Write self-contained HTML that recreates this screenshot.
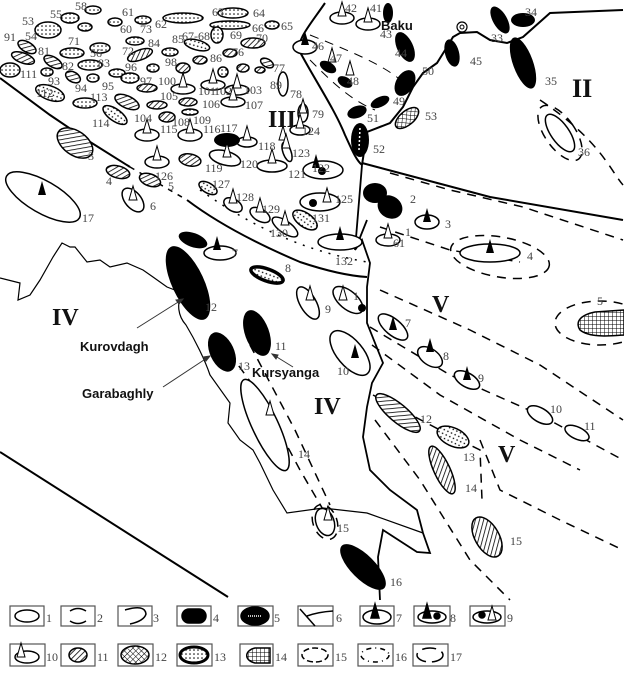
<!DOCTYPE html>
<html><head><meta charset="utf-8"><style>
html,body{margin:0;padding:0;background:#fff;}
svg{display:block;}
.n{font-family:"Liberation Serif",serif;font-size:12px;fill:#444;}
.r{font-family:"Liberation Serif",serif;font-weight:bold;fill:#111;}
.l{font-family:"Liberation Sans",sans-serif;font-weight:bold;font-size:13px;fill:#111;}
</style></head><body>
<svg width="624" height="673" viewBox="0 0 624 673" xmlns="http://www.w3.org/2000/svg">
<defs>
<pattern id="h" width="4" height="4" patternUnits="userSpaceOnUse" patternTransform="rotate(45)"><rect width="4" height="4" fill="#fff"/><line x1="0" y1="0" x2="0" y2="4" stroke="#000" stroke-width="1.6"/></pattern>
<pattern id="d" width="4" height="4" patternUnits="userSpaceOnUse"><rect width="4" height="4" fill="#fff"/><circle cx="2" cy="2" r="0.8" fill="#000"/></pattern>
<pattern id="x" width="4" height="4" patternUnits="userSpaceOnUse" patternTransform="rotate(45)"><rect width="4" height="4" fill="#fff"/><path d="M0 0V4M0 0H4" stroke="#000" stroke-width="1"/></pattern>
<pattern id="g" width="4" height="4" patternUnits="userSpaceOnUse"><rect width="4" height="4" fill="#fff"/><path d="M0 0V4M0 0H4" stroke="#000" stroke-width="1"/></pattern>
<g id="wc"><path d="M-4,0 L0,-14 L4,0Z" fill="#fff" stroke="#000" stroke-width="1"/></g>
<g id="bc"><path d="M-4,0 L0,-14 L4,0Z" fill="#000"/></g>
</defs>
<g fill="none" stroke="#000" stroke-width="2">
<path d="M0,78 L50,115 L87,140 L130,167"/>
<path d="M130,167 L187,200" stroke-dasharray="5,6" stroke-width="1.5"/>
<path d="M187,200 C220,225 260,245 300,262 C330,272 350,276 367,277"/>
<path d="M200,190 C250,225 300,250 367,262" stroke-dasharray="2,7" stroke-width="1.5"/>
<path d="M0,452 L228,597"/>
<path d="M325,3 C310,25 296,40 300,52 C315,80 335,110 345,135 C352,150 356,160 362,165"/>
<path d="M362,165 L367,132 L390,123 L403,107 L413,87 L423,73 L437,63 L447,47 L453,37 L460,33 L477,32 L490,40 L507,43 L523,37 L550,13 L623,10"/>
<path d="M362,163 L490,197 L623,220"/>
<path d="M362,165 L355,250 L367,220 M355,250 L362,240 L370,263 L367,287 L367,323 L383,363 L372,383 L367,407 L363,437 L370,470 L390,490 L417,510 L423,533 L430,553 L417,552 L383,530 L378,557 L380,600" stroke-width="1.8"/>
<path d="M0,278 L20,283 L18,300 L30,295 L40,280 L53,257 L62,243 L70,247 L75,247 L87,262 L100,260 L110,267 L127,263 L143,270 L153,277 L167,287 L180,292 C178,305 177,315 186,325 C195,340 205,360 210,375 L230,403 L228,423 L240,440 L253,450 L260,463 L273,490 L287,513 L323,508 L367,513 L423,533" stroke-width="1.2"/>
<g stroke-dasharray="9,7" stroke-width="1.5">
<path d="M380,227 L450,250 L520,262"/>
<path d="M390,173 L450,190 L523,207 L623,240"/>
<path d="M380,290 L470,330 L540,365 L623,420"/>
<path d="M370,327 L450,375 L540,415 L623,460"/>
<path d="M372,345 L440,395 L520,440 L580,470"/>
<path d="M373,395 L440,430 L480,450 L482,500"/>
<path d="M375,420 L420,480 L470,560 L510,600"/>
<path d="M480,440 L500,490 L560,520 L623,550"/>
<path d="M220,340 L260,395 L300,470 L335,530"/>
<path d="M250,345 L295,430 L330,505"/>
<ellipse cx="500" cy="257" rx="50" ry="20" transform="rotate(10 500 257)"/>
<ellipse cx="600" cy="323" rx="45" ry="22"/>
<ellipse cx="560" cy="133" rx="15" ry="32" transform="rotate(-35 560 133)"/>
<path d="M540,100 C600,140 610,170 623,185"/>
<ellipse cx="325" cy="522" rx="12" ry="18" transform="rotate(-20 325 522)"/>
<path d="M310,35 C360,55 395,70 410,90" stroke-width="1"/>
<path d="M310,60 C330,80 350,100 375,110" stroke-width="1"/>
</g>
</g>
<g fill="#fff" stroke="#000" stroke-width="1.5">
<ellipse cx="43" cy="197" rx="42" ry="16" transform="rotate(30 43 197)"/>
<ellipse cx="133" cy="200" rx="8" ry="14" transform="rotate(-40 133 200)"/>
<ellipse cx="147" cy="135" rx="12" ry="6"/><ellipse cx="157" cy="162" rx="12" ry="6"/>
<ellipse cx="190" cy="135" rx="12" ry="6"/><ellipse cx="183" cy="89" rx="12" ry="5"/>
<ellipse cx="213" cy="85" rx="12" ry="5"/><ellipse cx="237" cy="90" rx="12" ry="5"/>
<ellipse cx="233" cy="102" rx="12" ry="5"/><ellipse cx="225" cy="158" rx="16" ry="7" transform="rotate(15 225 158)"/>
<ellipse cx="247" cy="142" rx="10" ry="5"/><ellipse cx="272" cy="166" rx="15" ry="6"/>
<ellipse cx="287" cy="152" rx="4" ry="10" transform="rotate(-20 287 152)"/>
<ellipse cx="300" cy="130" rx="10" ry="5"/><ellipse cx="303" cy="113" rx="5" ry="9"/>
<ellipse cx="283" cy="84" rx="5" ry="12"/>
<ellipse cx="323" cy="170" rx="20" ry="9"/><ellipse cx="320" cy="202" rx="20" ry="9"/>
<ellipse cx="340" cy="242" rx="22" ry="8"/><ellipse cx="233" cy="205" rx="10" ry="6" transform="rotate(30 233 205)"/>
<ellipse cx="260" cy="215" rx="11" ry="6" transform="rotate(30 260 215)"/>
<ellipse cx="285" cy="227" rx="15" ry="6" transform="rotate(35 285 227)"/>
<ellipse cx="220" cy="253" rx="16" ry="7"/>
<ellipse cx="305" cy="47" rx="12" ry="7"/><ellipse cx="342" cy="18" rx="12" ry="6"/><ellipse cx="368" cy="24" rx="12" ry="6"/>
<ellipse cx="560" cy="133" rx="9" ry="22" transform="rotate(-35 560 133)"/>
<ellipse cx="427" cy="222" rx="12" ry="7"/><ellipse cx="388" cy="240" rx="12" ry="6"/>
<ellipse cx="490" cy="253" rx="30" ry="9"/>
<ellipse cx="393" cy="327" rx="18" ry="8" transform="rotate(40 393 327)"/>
<ellipse cx="430" cy="357" rx="14" ry="8" transform="rotate(35 430 357)"/>
<ellipse cx="467" cy="380" rx="14" ry="7" transform="rotate(30 467 380)"/>
<ellipse cx="540" cy="415" rx="14" ry="7" transform="rotate(30 540 415)"/>
<ellipse cx="577" cy="433" rx="13" ry="6" transform="rotate(25 577 433)"/>
<ellipse cx="308" cy="303" rx="8" ry="18" transform="rotate(-30 308 303)"/>
<ellipse cx="348" cy="300" rx="18" ry="9" transform="rotate(40 348 300)"/>
<ellipse cx="350" cy="353" rx="13" ry="27" transform="rotate(-40 350 353)"/>
<ellipse cx="265" cy="425" rx="13" ry="50" transform="rotate(-25 265 425)"/>
<ellipse cx="325" cy="522" rx="9" ry="14" transform="rotate(-20 325 522)"/>
</g>
<g stroke="#000" stroke-width="1.5">
<ellipse cx="48" cy="30" rx="13" ry="8" fill="url(#d)"/><ellipse cx="70" cy="18" rx="9" ry="5" fill="url(#d)"/>
<ellipse cx="93" cy="10" rx="8" ry="4" fill="url(#d)"/><ellipse cx="85" cy="27" rx="7" ry="4" fill="url(#d)"/>
<ellipse cx="115" cy="22" rx="7" ry="4" fill="url(#d)"/><ellipse cx="143" cy="20" rx="8" ry="4" fill="url(#d)"/>
<ellipse cx="183" cy="18" rx="20" ry="5" fill="url(#d)"/><ellipse cx="233" cy="13" rx="15" ry="5" fill="url(#d)"/>
<ellipse cx="230" cy="25" rx="20" ry="4" fill="url(#d)"/><ellipse cx="272" cy="25" rx="7" ry="4" fill="url(#d)"/>
<ellipse cx="27" cy="47" rx="10" ry="5" transform="rotate(30 27 47)" fill="url(#h)"/>
<ellipse cx="23" cy="58" rx="12" ry="5" transform="rotate(20 23 58)" fill="url(#h)"/>
<ellipse cx="72" cy="53" rx="12" ry="5" fill="url(#d)"/><ellipse cx="100" cy="48" rx="10" ry="5" fill="url(#d)"/>
<ellipse cx="135" cy="41" rx="9" ry="4" fill="url(#d)"/><ellipse cx="140" cy="55" rx="13" ry="5" transform="rotate(-20 140 55)" fill="url(#h)"/>
<ellipse cx="170" cy="52" rx="8" ry="4" fill="url(#d)"/><ellipse cx="197" cy="45" rx="13" ry="5" transform="rotate(15 197 45)" fill="url(#d)"/>
<ellipse cx="217" cy="35" rx="6" ry="8" fill="url(#d)"/><ellipse cx="253" cy="43" rx="12" ry="5" fill="url(#h)"/>
<ellipse cx="230" cy="53" rx="7" ry="4" fill="url(#h)"/><ellipse cx="243" cy="68" rx="6" ry="4" fill="url(#h)"/>
<ellipse cx="53" cy="62" rx="10" ry="5" transform="rotate(30 53 62)" fill="url(#h)"/>
<ellipse cx="90" cy="65" rx="12" ry="5" fill="url(#d)"/><ellipse cx="117" cy="73" rx="8" ry="4" fill="url(#d)"/>
<ellipse cx="130" cy="78" rx="9" ry="5" fill="url(#d)"/><ellipse cx="47" cy="72" rx="6" ry="4" fill="url(#d)"/>
<ellipse cx="73" cy="77" rx="8" ry="5" transform="rotate(30 73 77)" fill="url(#h)"/>
<ellipse cx="93" cy="78" rx="6" ry="4" fill="url(#d)"/>
<ellipse cx="50" cy="93" rx="15" ry="7" transform="rotate(20 50 93)" fill="url(#d)"/>
<ellipse cx="85" cy="103" rx="12" ry="5" fill="url(#d)"/><ellipse cx="153" cy="68" rx="6" ry="4" fill="url(#d)"/>
<ellipse cx="183" cy="68" rx="7" ry="5" fill="url(#h)"/><ellipse cx="147" cy="88" rx="10" ry="4" fill="url(#h)"/>
<ellipse cx="157" cy="105" rx="10" ry="4" fill="url(#h)"/><ellipse cx="127" cy="102" rx="13" ry="6" transform="rotate(25 127 102)" fill="url(#h)"/>
<ellipse cx="115" cy="115" rx="14" ry="6" transform="rotate(35 115 115)" fill="url(#d)"/>
<ellipse cx="167" cy="117" rx="8" ry="5" fill="url(#h)"/><ellipse cx="188" cy="102" rx="9" ry="4" fill="url(#h)"/>
<ellipse cx="190" cy="112" rx="8" ry="3" fill="url(#d)"/><ellipse cx="200" cy="60" rx="7" ry="4" fill="url(#h)"/>
<ellipse cx="223" cy="72" rx="5" ry="5" fill="url(#d)"/><ellipse cx="267" cy="63" rx="7" ry="4" transform="rotate(30 267 63)" fill="url(#h)"/>
<ellipse cx="260" cy="70" rx="5" ry="3" fill="url(#h)"/><ellipse cx="10" cy="70" rx="10" ry="7" fill="url(#d)"/>
<ellipse cx="75" cy="143" rx="20" ry="12" transform="rotate(35 75 143)" fill="url(#h)"/>
<ellipse cx="118" cy="172" rx="12" ry="6" transform="rotate(15 118 172)" fill="url(#h)"/>
<ellipse cx="150" cy="180" rx="11" ry="6" transform="rotate(20 150 180)" fill="url(#h)"/>
<ellipse cx="190" cy="160" rx="11" ry="6" transform="rotate(10 190 160)" fill="url(#h)"/>
<ellipse cx="208" cy="188" rx="10" ry="5" transform="rotate(30 208 188)" fill="url(#d)"/>
<ellipse cx="305" cy="220" rx="14" ry="7" transform="rotate(35 305 220)" fill="url(#d)"/>
<ellipse cx="407" cy="118" rx="7" ry="14" transform="rotate(50 407 118)" fill="url(#x)"/>
<ellipse cx="267" cy="275" rx="17" ry="6" transform="rotate(20 267 275)" fill="url(#d)" stroke-width="3.5"/>
<ellipse cx="398" cy="413" rx="28" ry="9" transform="rotate(40 398 413)" fill="url(#h)"/>
<ellipse cx="453" cy="437" rx="17" ry="9" transform="rotate(25 453 437)" fill="url(#d)"/>
<ellipse cx="442" cy="470" rx="8" ry="26" transform="rotate(-25 442 470)" fill="url(#h)"/>
<ellipse cx="487" cy="537" rx="12" ry="22" transform="rotate(-30 487 537)" fill="url(#h)"/>
<path d="M624,310 L595,312 C580,315 575,322 580,330 C590,338 610,336 624,335Z" fill="url(#g)"/>
</g>
<g fill="#000">
<ellipse cx="227" cy="140" rx="13" ry="7"/>
<ellipse cx="388" cy="13" rx="5" ry="10"/>
<ellipse cx="405" cy="47" rx="8" ry="16" transform="rotate(-25 405 47)"/>
<ellipse cx="452" cy="53" rx="7" ry="14" transform="rotate(-15 452 53)"/>
<ellipse cx="500" cy="20" rx="7" ry="15" transform="rotate(-30 500 20)"/>
<ellipse cx="523" cy="20" rx="12" ry="7"/>
<ellipse cx="523" cy="63" rx="10" ry="27" transform="rotate(-20 523 63)"/>
<ellipse cx="405" cy="83" rx="9" ry="14" transform="rotate(30 405 83)"/>
<ellipse cx="380" cy="102" rx="10" ry="5" transform="rotate(-25 380 102)"/>
<ellipse cx="357" cy="112" rx="10" ry="6" transform="rotate(-20 357 112)"/>
<ellipse cx="360" cy="140" rx="9" ry="17"/>
<ellipse cx="328" cy="67" rx="9" ry="5" transform="rotate(30 328 67)"/>
<ellipse cx="345" cy="82" rx="8" ry="5" transform="rotate(30 345 82)"/>
<ellipse cx="375" cy="193" rx="12" ry="10"/><ellipse cx="390" cy="207" rx="13" ry="11" transform="rotate(35 390 207)"/>
<ellipse cx="188" cy="283" rx="16" ry="40" transform="rotate(-25 188 283)"/>
<ellipse cx="193" cy="240" rx="15" ry="7" transform="rotate(20 193 240)"/>
<ellipse cx="257" cy="333" rx="12" ry="24" transform="rotate(-20 257 333)"/>
<ellipse cx="222" cy="352" rx="12" ry="21" transform="rotate(-25 222 352)"/>
<ellipse cx="363" cy="567" rx="12" ry="30" transform="rotate(-45 363 567)"/>
<circle cx="322" cy="171" r="4"/><circle cx="313" cy="203" r="4"/><circle cx="362" cy="308" r="4"/>
</g>
<path d="M360,128 L359,150" stroke="#fff" stroke-width="1.5" stroke-dasharray="2,2"/>
<g>
<use href="#wc" x="147" y="133"/><use href="#wc" x="157" y="160"/><use href="#wc" x="190" y="133"/>
<use href="#wc" x="183" y="87"/><use href="#wc" x="213" y="83"/><use href="#wc" x="237" y="88"/>
<use href="#wc" x="233" y="100"/><use href="#wc" x="227" y="157"/><use href="#wc" x="247" y="140"/>
<use href="#wc" x="272" y="163"/><use href="#wc" x="283" y="140"/><use href="#wc" x="133" y="200"/>
<use href="#wc" x="233" y="203"/><use href="#wc" x="260" y="212"/><use href="#wc" x="285" y="225"/>
<use href="#wc" x="303" y="113"/><use href="#wc" x="300" y="128"/><use href="#wc" x="286" y="148"/>
<use href="#wc" x="327" y="202"/><use href="#wc" x="388" y="238"/><use href="#wc" x="342" y="16"/>
<use href="#wc" x="368" y="22"/><use href="#wc" x="332" y="62"/><use href="#wc" x="350" y="75"/>
<use href="#wc" x="343" y="300"/><use href="#wc" x="310" y="300"/><use href="#wc" x="270" y="415"/>
<use href="#wc" x="328" y="520"/>
<use href="#bc" x="42" y="195"/><use href="#bc" x="305" y="45"/><use href="#bc" x="316" y="168"/>
<use href="#bc" x="340" y="240"/><use href="#bc" x="427" y="222"/><use href="#bc" x="490" y="253"/>
<use href="#bc" x="393" y="330"/><use href="#bc" x="430" y="352"/><use href="#bc" x="467" y="380"/>
<use href="#bc" x="355" y="358"/><use href="#bc" x="217" y="250"/>
</g>
<g class="n">
<text x="22" y="25">53</text><text x="50" y="18">55</text><text x="75" y="10">58</text><text x="122" y="16">61</text>
<text x="155" y="28">62</text><text x="212" y="16">63</text><text x="253" y="17">64</text><text x="252" y="32">66</text>
<text x="281" y="30">65</text><text x="4" y="41">91</text><text x="25" y="40">54</text><text x="38" y="55">81</text>
<text x="68" y="45">71</text><text x="140" y="33">73</text><text x="148" y="47">84</text><text x="172" y="43">85</text>
<text x="182" y="40">67-68</text><text x="230" y="39">69</text><text x="256" y="42">70</text><text x="232" y="56">76</text>
<text x="90" y="57">56</text><text x="120" y="33">60</text><text x="122" y="55">72</text><text x="62" y="70">82</text>
<text x="98" y="67">83</text><text x="125" y="71">96</text><text x="165" y="66">98</text><text x="210" y="62">86</text>
<text x="273" y="72">77</text><text x="20" y="78">111</text><text x="48" y="85">93</text><text x="36" y="97">112</text>
<text x="75" y="92">94</text><text x="90" y="101">113</text><text x="102" y="90">95</text><text x="140" y="85">97</text>
<text x="158" y="85">100</text><text x="198" y="95">101</text><text x="214" y="95">102</text><text x="244" y="94">103</text>
<text x="202" y="108">106</text><text x="245" y="109">107</text><text x="160" y="100">105</text><text x="270" y="89">89</text>
<text x="290" y="98">78</text><text x="312" y="118">79</text><text x="92" y="127">114</text><text x="134" y="122">104</text>
<text x="160" y="133">115</text><text x="172" y="126">108</text><text x="193" y="124">109</text><text x="203" y="133">116</text>
<text x="220" y="132">117</text><text x="258" y="150">118</text><text x="240" y="168">120</text><text x="288" y="178">121</text>
<text x="292" y="157">123</text><text x="302" y="135">124</text><text x="312" y="172">122</text><text x="205" y="172">119</text>
<text x="155" y="180">126</text><text x="212" y="188">127</text><text x="236" y="201">128</text><text x="262" y="213">129</text>
<text x="270" y="237">130</text><text x="312" y="222">131</text><text x="335" y="265">132</text><text x="335" y="203">125</text>
<text x="88" y="160">3</text><text x="106" y="185">4</text><text x="168" y="190">5</text><text x="150" y="210">6</text>
<text x="82" y="222">17</text><text x="370" y="12">41</text><text x="345" y="12">42</text><text x="380" y="38">43</text>
<text x="395" y="57">44</text><text x="312" y="50">46</text><text x="330" y="62">47</text><text x="347" y="85">48</text>
<text x="393" y="105">49</text><text x="422" y="75">50</text><text x="367" y="122">51</text><text x="373" y="153">52</text>
<text x="425" y="120">53</text><text x="470" y="65">45</text><text x="491" y="42">33</text><text x="525" y="16">34</text>
<text x="545" y="85">35</text><text x="578" y="156">36</text><text x="410" y="203">2</text><text x="445" y="228">3</text>
<text x="527" y="260">4</text><text x="597" y="305">5</text><text x="393" y="247">61</text><text x="405" y="236">1</text>
<text x="232" y="257">7</text><text x="285" y="272">8</text><text x="325" y="313">9</text><text x="353" y="300">1</text>
<text x="337" y="375">10</text><text x="405" y="327">7</text><text x="443" y="360">8</text><text x="478" y="382">9</text>
<text x="550" y="413">10</text><text x="584" y="430">11</text><text x="420" y="423">12</text><text x="463" y="461">13</text>
<text x="465" y="492">14</text><text x="510" y="545">15</text><text x="205" y="311">12</text><text x="275" y="350">11</text>
<text x="238" y="370">13</text><text x="298" y="458">14</text><text x="337" y="532">15</text><text x="390" y="586">16</text>
</g>
<text class="r" x="268" y="127" font-size="24">III</text>
<text class="r" x="572" y="97" font-size="26">II</text>
<text class="r" x="432" y="312" font-size="24">V</text>
<text class="r" x="498" y="462" font-size="24">V</text>
<text class="r" x="52" y="325" font-size="24">IV</text>
<text class="r" x="314" y="414" font-size="24">IV</text>
<text class="l" x="381" y="30" font-size="14">Baku</text>
<circle cx="462" cy="27" r="5" fill="none" stroke="#000" stroke-width="1.2"/><circle cx="462" cy="27" r="2" fill="none" stroke="#000" stroke-width="1"/>
<text class="l" x="80" y="351">Kurovdagh</text>
<text class="l" x="82" y="398">Garabaghly</text>
<text class="l" x="252" y="377">Kursyanga</text>
<g stroke="#333" stroke-width="1" fill="#333">
<line x1="137" y1="328" x2="183" y2="299"/><path d="M183,299 l-7,1 l3,4z"/>
<line x1="163" y1="387" x2="210" y2="356"/><path d="M210,356 l-7,1 l3,4z"/>
<line x1="293" y1="367" x2="272" y2="354"/><path d="M272,354 l6,1 l-2,4z"/>
</g>
<g fill="none" stroke="#555" stroke-width="1.2">
<rect x="10" y="606" width="34" height="20"/><rect x="61" y="606" width="34" height="20"/><rect x="118" y="606" width="34" height="20"/>
<rect x="177" y="606" width="34" height="20"/><rect x="238" y="606" width="35" height="20"/><rect x="298" y="606" width="35" height="20"/>
<rect x="360" y="606" width="34" height="20"/><rect x="414" y="606" width="36" height="20"/><rect x="470" y="606" width="35" height="20"/>
<rect x="10" y="644" width="35" height="22"/><rect x="61" y="644" width="34" height="22"/><rect x="118" y="644" width="35" height="22"/>
<rect x="177" y="644" width="35" height="22"/><rect x="240" y="644" width="33" height="22"/><rect x="298" y="644" width="35" height="22"/>
<rect x="358" y="644" width="35" height="22"/><rect x="413" y="644" width="35" height="22"/>
</g>
<g stroke="#000" stroke-width="1.5" fill="none">
<ellipse cx="27" cy="616" rx="12" ry="6"/>
<path d="M70,611 Q78,606 86,611 M70,621 Q78,626 86,621"/>
<path d="M125,610 Q145,604 146,614 Q144,621 130,624"/>
<rect x="182" y="609" width="24" height="14" rx="7" fill="#000"/>
<ellipse cx="255" cy="616" rx="14" ry="9" fill="#000"/><path d="M248,616 h14" stroke="#fff" stroke-dasharray="1,1"/>
<path d="M300,609 L315,626 M307,616 Q318,612 333,611"/>
<ellipse cx="377" cy="617" rx="14" ry="7"/><use href="#bc" x="375" y="618"/>
<ellipse cx="432" cy="617" rx="14" ry="6"/><use href="#bc" x="427" y="618"/><circle cx="437" cy="616" r="3" fill="#000"/>
<ellipse cx="487" cy="617" rx="14" ry="6"/><circle cx="482" cy="615" r="3" fill="#000"/><use href="#wc" x="492" y="620"/>
<ellipse cx="27" cy="657" rx="12" ry="6"/><use href="#wc" x="21" y="657"/>
<ellipse cx="78" cy="655" rx="9" ry="7" fill="url(#h)"/>
<ellipse cx="135" cy="655" rx="14" ry="9" fill="url(#x)"/>
<ellipse cx="194" cy="655" rx="14" ry="8" fill="url(#d)" stroke-width="3"/>
<path d="M270,648 L255,648 C245,650 243,660 255,663 L270,663Z" fill="url(#g)"/>
<ellipse cx="315" cy="655" rx="13" ry="7" stroke-dasharray="6,3"/>
<ellipse cx="375" cy="655" rx="14" ry="7" stroke-dasharray="5,4,1,4"/>
<ellipse cx="430" cy="655" rx="13" ry="7" stroke-dasharray="14,6"/>
</g>
<g class="n" font-size="13">
<text x="46" y="622">1</text><text x="97" y="622">2</text><text x="153" y="622">3</text><text x="213" y="622">4</text>
<text x="274" y="622">5</text><text x="336" y="622">6</text><text x="396" y="622">7</text><text x="450" y="622">8</text>
<text x="507" y="622">9</text><text x="46" y="661">10</text><text x="97" y="661">11</text><text x="155" y="661">12</text>
<text x="214" y="661">13</text><text x="275" y="661">14</text><text x="335" y="661">15</text><text x="395" y="661">16</text>
<text x="450" y="661">17</text>
</g>
</svg>
</body></html>
